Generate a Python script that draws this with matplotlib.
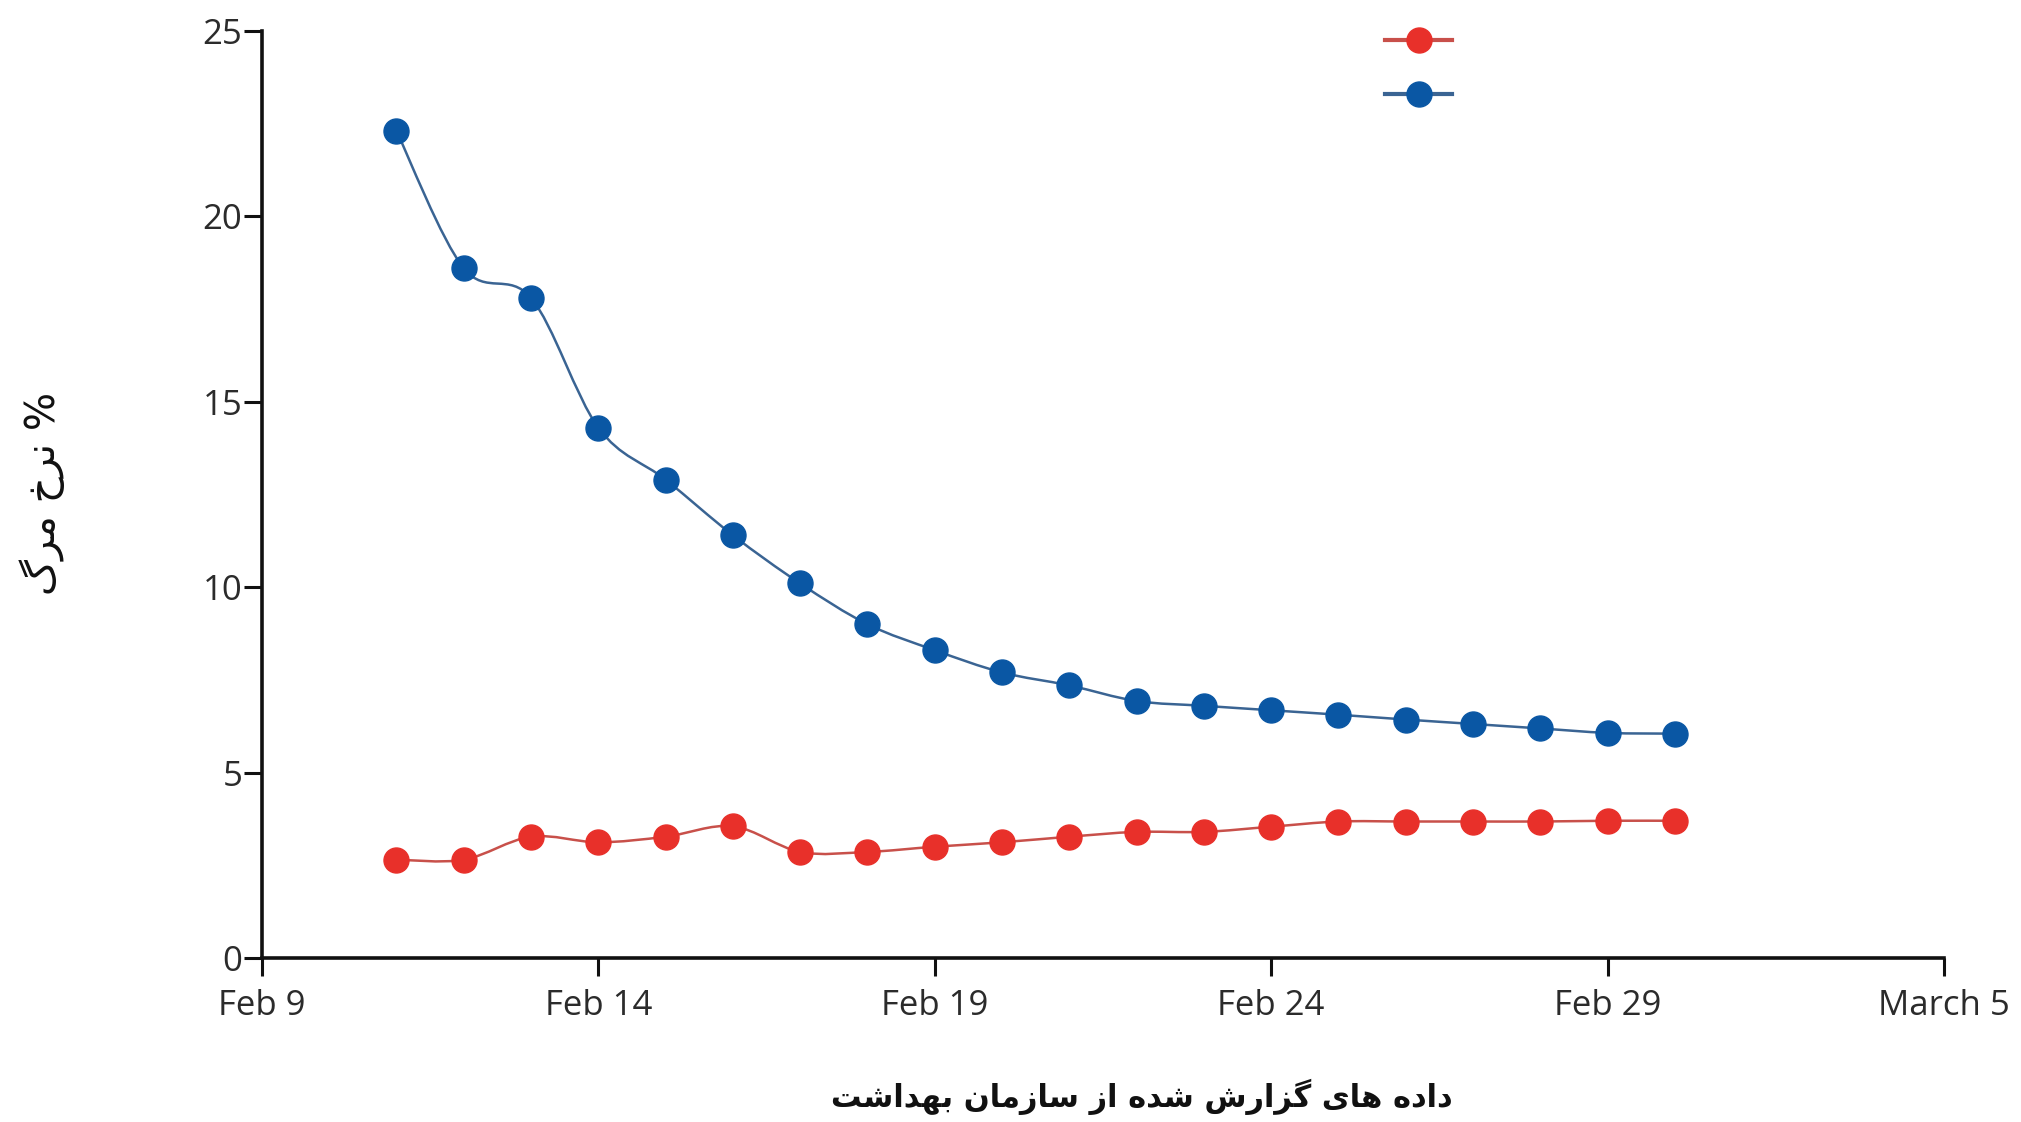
import matplotlib
matplotlib.use("Agg")
import matplotlib.pyplot as plt
import matplotlib.dates as mdates
from matplotlib.path import Path
from matplotlib.patches import PathPatch
from matplotlib.lines import Line2D
import numpy as np
import pandas as pd

# روزهای گزارش (۱۱ فوریه تا ۱ مارس ۲۰۲۰)
dates = pd.date_range("2020-02-11", "2020-03-01", freq="D")

# نرخ مرگ: مرگ / موارد تایید شده
red_vals = [2.65, 2.65, 3.27, 3.12, 3.27, 3.55, 2.86, 2.86, 3.0, 3.12,
            3.27, 3.4, 3.4, 3.54, 3.68, 3.68, 3.68, 3.68, 3.7, 3.7]
# نرخ مرگ: مرگ / (مرگ + بهبود یافته)
blue_vals = [22.3, 18.6, 17.8, 14.3, 12.9, 11.4, 10.1, 9.0, 8.3, 7.7,
             7.35, 6.93, 6.8, 6.68, 6.56, 6.43, 6.31, 6.19, 6.07, 6.05]

tick_dates = pd.to_datetime(["2020-02-09", "2020-02-14", "2020-02-19",
                             "2020-02-24", "2020-02-29", "2020-03-05"])
tick_labels = ["Feb 9", "Feb 14", "Feb 19", "Feb 24", "Feb 29", "March 5"]
y_ticks = [0, 5, 10, 15, 20, 25]

xlabel_text = "داده های گزارش شده از سازمان بهداشت"
ylabel_text = "% نرخ مرگ"

# شکل‌دهی ساده حروف فارسی (matplotlib اتصال حروف را انجام نمی‌دهد)
FORMS = {
    "ا": ("\uFE8D", "\uFE8E", None, None),
    "د": ("\uFEA9", "\uFEAA", None, None),
    "ر": ("\uFEAD", "\uFEAE", None, None),
    "ز": ("\uFEAF", "\uFEB0", None, None),
    "ب": ("\uFE8F", "\uFE90", "\uFE91", "\uFE92"),
    "ت": ("\uFE95", "\uFE96", "\uFE97", "\uFE98"),
    "خ": ("\uFEA5", "\uFEA6", "\uFEA7", "\uFEA8"),
    "س": ("\uFEB1", "\uFEB2", "\uFEB3", "\uFEB4"),
    "ش": ("\uFEB5", "\uFEB6", "\uFEB7", "\uFEB8"),
    "م": ("\uFEE1", "\uFEE2", "\uFEE3", "\uFEE4"),
    "ن": ("\uFEE5", "\uFEE6", "\uFEE7", "\uFEE8"),
    "ه": ("\uFEE9", "\uFEEA", "\uFEEB", "\uFEEC"),
    "ی": ("\uFBFC", "\uFBFD", "\uFBFE", "\uFBFF"),
    "گ": ("\uFB92", "\uFB93", "\uFB94", "\uFB95"),
}


def shape_fa(text):
    out = []
    for i, ch in enumerate(text):
        if ch not in FORMS:
            out.append(ch)
            continue
        prev = text[i - 1] if i > 0 else ""
        nxt = text[i + 1] if i + 1 < len(text) else ""
        join_prev = prev in FORMS and FORMS[prev][2] is not None
        join_next = FORMS[ch][2] is not None and nxt in FORMS
        iso, fin, ini, med = FORMS[ch]
        if join_prev and join_next:
            out.append(med)
        elif join_prev:
            out.append(fin)
        elif join_next:
            out.append(ini)
        else:
            out.append(iso)
    return "".join(out)[::-1]


def smooth_path(x, y):
    # Catmull-Rom -> Bezier
    verts = [(x[0], y[0])]
    codes = [Path.MOVETO]
    n = len(x)
    for i in range(n - 1):
        x0, y0 = (x[i - 1], y[i - 1]) if i > 0 else (x[i], y[i])
        x3, y3 = (x[i + 2], y[i + 2]) if i + 2 < n else (x[i + 1], y[i + 1])
        c1 = (x[i] + (x[i + 1] - x0) / 6, y[i] + (y[i + 1] - y0) / 6)
        c2 = (x[i + 1] - (x3 - x[i]) / 6, y[i + 1] - (y3 - y[i]) / 6)
        verts += [c1, c2, (x[i + 1], y[i + 1])]
        codes += [Path.CURVE4] * 3
    return Path(verts, codes)


plt.rcParams["font.family"] = ["Open Sans", "DejaVu Sans"]

red_c = "#e8302a"
blue_c = "#0a57a4"
red_line = "#c8504a"
blue_line = "#3a6493"
txt_c = "#2b2b2b"

fig = plt.figure(figsize=(20.21, 11.22), dpi=100)
ax = fig.add_axes([0.1296, 0.1462, 0.8323, 0.8262])

xnum = mdates.date2num(dates)
for vals, lc in [(red_vals, red_line), (blue_vals, blue_line)]:
    ax.add_patch(PathPatch(smooth_path(xnum, vals), facecolor="none",
                           edgecolor=lc, lw=1.8, zorder=2))

ax.plot(dates, red_vals, "o", color=red_c, ms=18, zorder=3)
ax.plot(dates, blue_vals, "o", color=blue_c, ms=18, zorder=3)

ax.set_xlim(tick_dates[0], tick_dates[-1])
ax.set_ylim(0, 25)
ax.set_xticks(tick_dates)
ax.set_xticklabels(tick_labels)
ax.set_yticks(y_ticks)

for s in ["top", "right"]:
    ax.spines[s].set_visible(False)
for s in ["left", "bottom"]:
    ax.spines[s].set_linewidth(2.6)
    ax.spines[s].set_color("#111111")

ax.tick_params(axis="both", direction="out", length=13, width=2.2,
               color="#111111", labelsize=25, labelcolor=txt_c)
ax.tick_params(axis="y", pad=1)
ax.tick_params(axis="x", pad=9)

handles = [
    Line2D([], [], color=red_line, lw=3, marker="o", ms=18, mfc=red_c, mec=red_c),
    Line2D([], [], color=blue_line, lw=3, marker="o", ms=18, mfc=blue_c, mec=blue_c),
]
ax.legend(handles, ["", ""], loc="center", bbox_to_anchor=(0.702, 0.938),
          bbox_transform=fig.transFigure, frameon=False, fontsize=20,
          handlelength=2.4, handletextpad=0, labelspacing=0.92,
          borderpad=0)

fig.text(0.565, 0.022, shape_fa(xlabel_text), ha="center", va="center",
         fontsize=22, fontweight="bold", color="#111111",
         family=["DejaVu Sans"])
fig.text(0.021, 0.56, shape_fa(ylabel_text), ha="center", va="center",
         rotation=90, fontsize=29, color="#111111", family=["DejaVu Sans"])

fig.savefig("out.png", dpi=100, facecolor="white")
